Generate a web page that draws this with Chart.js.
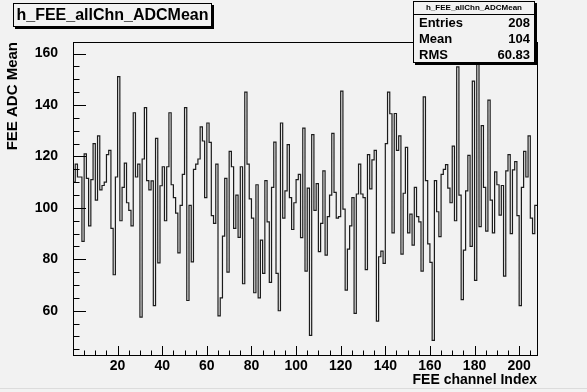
<!DOCTYPE html>
<html>
<head>
<meta charset="utf-8">
<script src="https://cdn.jsdelivr.net/npm/chart.js@4.4.1/dist/chart.umd.min.js"></script>
<style>
  html, body { margin: 0; padding: 0; background: #f2f2f2; }
  #wrap { position: relative; width: 587px; height: 392px; overflow: hidden; background: #f2f2f2; }
  #c { position: absolute; left: 0; top: 0; }
  .box { position: absolute; box-sizing: border-box; background: #f2f2f2; border: 1px solid #000; font-family: "Liberation Sans", Arial, sans-serif; font-weight: bold; color: #000; }
  #title { left: 13px; top: 3px; width: 199px; height: 24px; box-shadow: 2px 2px 0 #000; font-size: 16px; line-height: 22px; text-align: center; }
  #stats { left: 413px; top: 1px; width: 122px; height: 62px; box-shadow: 2px 2px 0 #000; font-size: 13px; }
  #stats .hd { font-size: 8px; text-align: center; border-bottom: 1px solid #000; height: 12px; line-height: 12px; }
  #stats .row { display: flex; justify-content: space-between; padding: 0 4px 0 5px; height: 16px; line-height: 16px; }
  #foot { position: absolute; left: 0; top: 388px; width: 587px; height: 1px; background: #dcdcdc; }
</style>
</head>
<body>
<div id="wrap">
  <canvas id="c" width="587" height="392"></canvas>
  <div id="title" class="box">h_FEE_allChn_ADCMean</div>
  <div id="stats" class="box">
    <div class="hd">h_FEE_allChn_ADCMean</div>
    <div class="row"><span>Entries</span><span>208</span></div>
    <div class="row"><span>Mean</span><span>104</span></div>
    <div class="row"><span>RMS</span><span>60.83</span></div>
  </div>
  <div id="foot"></div>
</div>
<script>
// mean ADC per FEE channel, bins 0..207
const channelValues = [
  110, 117, 112, 112, 87, 121, 111.5, 93, 111, 125,
  103, 128, 107, 108.7, 110, 120.7, 122.4, 92, 74, 112,
  151, 95, 108, 117.4, 102, 99, 93, 137, 112, 117,
  57.5, 119, 139, 110.6, 107, 110.5, 62, 127, 78.6, 108.6,
  116, 95, 116, 137, 109, 104, 98, 82.5, 101, 113,
  139, 64, 101, 79, 115, 117, 119, 131.5, 126, 104,
  133, 125.5, 97, 94, 117, 58, 65, 89, 111.5, 75,
  122, 116, 92, 105, 88.5, 116, 70.5, 145, 117, 103.5,
  96, 67, 109, 65, 87.5, 74.5, 110.6, 94.6, 71, 108,
  125.6, 74.5, 60, 133, 96, 106.6, 124.6, 104, 91.6, 102,
  111, 113, 88.4, 131, 75.4, 107.7, 50.4, 128.5, 99, 109.4,
  83, 94, 114.4, 81.6, 96.6, 105, 129, 106, 96, 96.6,
  145.4, 99.5, 68, 84, 93, 104, 59, 105.4, 117, 105.4,
  104, 76, 120.7, 107.4, 118.7, 122.4, 56, 81, 83.2, 78.4,
  125, 145, 136.6, 90.3, 136.7, 122.4, 128, 82, 105.7, 123.5,
  90.3, 97.6, 85.5, 108, 96.6, 94.6, 75.4, 143.2, 110.6, 86,
  78.8, 48.5, 110.6, 98.5, 88.8, 113, 115, 116.8, 107.7, 102,
  124, 95, 154.8, 105, 64.3, 83.6, 106.6, 120.4, 85, 149.3,
  71.8, 159.7, 92.7, 132, 108, 91, 141.9, 103, 90.3, 114,
  109, 97.2, 108.7, 73.5, 114.4, 120.7, 90, 114.8, 118, 97,
  62, 108, 122, 112, 128, 96, 90, 101
];
const xTickLabels = [20, 40, 60, 80, 100, 120, 140, 160, 180, 200];
const yTickLabels = [60, 80, 100, 120, 140, 160];
const xRange = [0, 208];
const yRange = [42.8, 164.5];

// step outline: each bin starts at its low edge, last point closes the final bin
const histPoints = channelValues.map((v, i) => ({ x: xRange[0] + i, y: v }));
histPoints.push({ x: xRange[0] + channelValues.length, y: channelValues[channelValues.length - 1] });

const FONT = { family: '"Liberation Sans", Arial, sans-serif', weight: 'bold', size: 14 };
const TITLE_FONT = { family: '"Liberation Sans", Arial, sans-serif', weight: 'bold', size: 15 };

// ROOT-style ticks pointing into the frame, plus the frame itself
const rootFrame = {
  id: 'rootFrame',
  afterDatasetsDraw(chart) {
    const { ctx, chartArea: a, scales: { x, y } } = chart;
    ctx.save();
    ctx.strokeStyle = '#000';
    ctx.lineWidth = 1;
    ctx.beginPath();
    for (let v = 5; v < xRange[1]; v += 5) {
      const px = Math.round(x.getPixelForValue(v)) + 0.5;
      const len = v % 20 === 0 ? 9 : 4.5;
      ctx.moveTo(px, a.bottom);
      ctx.lineTo(px, a.bottom - len);
    }
    for (let v = 45; v < yRange[1]; v += 5) {
      const py = Math.round(y.getPixelForValue(v)) + 0.5;
      const len = v % 20 === 0 ? 13 : 6.5;
      ctx.moveTo(a.left, py);
      ctx.lineTo(a.left + len, py);
    }
    ctx.stroke();
    ctx.strokeRect(Math.round(a.left) + 0.5, Math.round(a.top) + 0.5,
      Math.round(a.right - a.left), Math.round(a.bottom - a.top));
    ctx.restore();
  }
};

new Chart(document.getElementById('c'), {
  type: 'line',
  data: {
    datasets: [{
      label: 'h_FEE_allChn_ADCMean',
      data: histPoints,
      stepped: 'before',
      borderColor: '#1c1c1c',
      borderWidth: 1.2,
      pointRadius: 0,
      fill: false
    }]
  },
  options: {
    responsive: false,
    animation: false,
    layout: { padding: { left: 0, right: 50, top: 42, bottom: 0 } },
    plugins: { legend: { display: false }, tooltip: { enabled: false } },
    scales: {
      x: {
        type: 'linear',
        min: xRange[0],
        max: xRange[1],
        afterBuildTicks: s => { s.ticks = xTickLabels.map(v => ({ value: v })); },
        afterFit: s => { s.height = 392 - 355; },
        grid: { display: false, drawTicks: false },
        border: { display: false },
        ticks: { color: '#000', font: FONT, padding: 3, maxRotation: 0 },
        title: { display: true, text: 'FEE channel Index', align: 'end', color: '#000', font: FONT, padding: { top: 0, bottom: 3 } }
      },
      y: {
        type: 'linear',
        min: yRange[0],
        max: yRange[1],
        afterBuildTicks: s => { s.ticks = yTickLabels.map(v => ({ value: v })); },
        afterFit: s => { s.width = 73; },
        grid: { display: false, drawTicks: false },
        border: { display: false },
        ticks: { color: '#000', font: FONT, padding: 15 },
        title: { display: true, text: 'FEE ADC Mean', align: 'end', color: '#000', font: TITLE_FONT, padding: { top: 4, bottom: 0 } }
      }
    }
  },
  plugins: [rootFrame]
});
</script>
</body>
</html>
